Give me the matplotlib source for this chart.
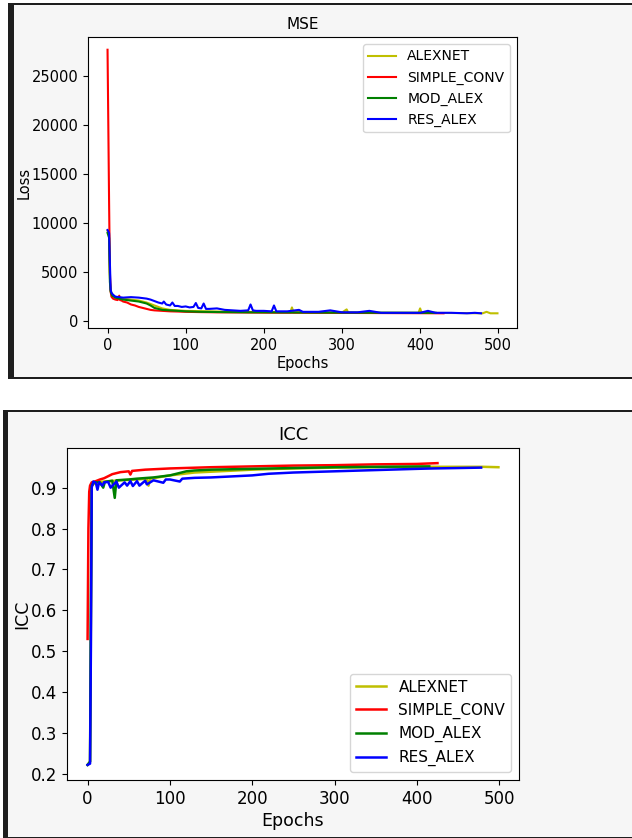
import matplotlib
matplotlib.use("Agg")
import matplotlib.pyplot as plt
from matplotlib.patches import Rectangle

W, H = 632, 838

labels = ["ALEXNET", "SIMPLE_CONV", "MOD_ALEX", "RES_ALEX"]
colors = ["y", "r", "g", "b"]

# MSE loss curves (epoch, value)
mse_alex_ep = [0, 2, 3, 4, 6, 10, 20, 30, 40, 50,
               60, 70, 80, 100, 130, 160, 200, 234, 236, 238,
               260, 300, 306, 308, 350, 398, 400, 402, 440, 480,
               485, 490, 499]
mse_alex = [9200, 8800, 4500, 3100, 2700, 2400, 2300, 2200, 2100, 1900,
            1600, 1300, 1150, 1050, 1000, 950, 920, 900, 1400, 900,
            880, 870, 1200, 870, 850, 850, 1300, 850, 830, 800,
            950, 800, 800]

mse_simple_ep = [0, 1, 2, 3, 4, 5, 7, 10, 13, 15,
                 16, 18, 20, 25, 30, 35, 40, 45, 50, 55,
                 60, 70, 80, 90, 100, 120, 140, 160, 180, 200,
                 220, 250, 280, 300, 330, 360, 400, 430]
mse_simple = [27700, 20000, 12000, 5000, 3000, 2500, 2300, 2200, 2150, 2600,
              2150, 2100, 2000, 1900, 1700, 1600, 1450, 1350, 1250, 1150,
              1100, 1050, 1000, 980, 950, 920, 900, 890, 880, 870,
              860, 860, 850, 840, 830, 820, 810, 800]

mse_mod_ep = [0, 2, 3, 4, 6, 10, 15, 20, 30, 40,
              50, 55, 60, 65, 70, 80, 90, 100, 120, 150,
              180, 200, 250, 300, 350, 400, 420]
mse_mod = [9000, 8500, 4000, 3000, 2600, 2400, 2300, 2200, 2100, 2000,
           1800, 1600, 1350, 1250, 1150, 1100, 1050, 1000, 950, 920,
           900, 900, 880, 870, 860, 850, 850]

mse_res_ep = [0, 2, 3, 4, 5, 7, 10, 15, 20, 30,
              40, 50, 55, 60, 65, 70, 72, 75, 80, 83,
              86, 90, 95, 100, 105, 110, 113, 116, 120, 123,
              126, 130, 140, 150, 160, 170, 180, 183, 186, 190,
              200, 210, 213, 216, 230, 245, 250, 270, 285, 300,
              320, 335, 350, 380, 400, 410, 420, 440, 460, 470,
              478]
mse_res = [9300, 9000, 6000, 3200, 2900, 2700, 2500, 2450, 2400, 2450,
           2400, 2300, 2200, 2050, 1900, 1800, 2000, 1700, 1600, 1900,
           1550, 1550, 1450, 1500, 1400, 1450, 1850, 1350, 1300, 1800,
           1250, 1250, 1300, 1150, 1100, 1050, 1100, 1700, 1100, 1050,
           1050, 1000, 1600, 1000, 1000, 1150, 950, 950, 1100, 900,
           900, 1050, 850, 850, 850, 1050, 850, 850, 800, 850,
           800]

# ICC curves
icc_alex_ep = [0, 3, 4, 5, 10, 20, 40, 60, 72, 74,
               76, 100, 130, 160, 200, 250, 300, 350, 400, 450,
               480, 499]
icc_alex = [0.222, 0.23, 0.55, 0.905, 0.913, 0.915, 0.918, 0.92, 0.922, 0.905,
            0.922, 0.93, 0.937, 0.94, 0.944, 0.947, 0.949, 0.95, 0.951, 0.951,
            0.951, 0.95]

icc_simple_ep = [0, 1, 2, 3, 5, 10, 15, 20, 25, 30,
                 40, 50, 52, 54, 70, 100, 150, 200, 250, 300,
                 350, 400, 425]
icc_simple = [0.53, 0.8, 0.89, 0.905, 0.913, 0.916, 0.92, 0.923, 0.928, 0.933,
              0.938, 0.94, 0.932, 0.941, 0.944, 0.947, 0.95, 0.952, 0.954, 0.955,
              0.957, 0.958, 0.96]

icc_mod_ep = [0, 3, 4, 5, 8, 15, 19, 21, 30, 33,
              35, 50, 60, 80, 100, 110, 120, 130, 150, 200,
              250, 300, 350, 415]
icc_mod = [0.222, 0.23, 0.6, 0.905, 0.913, 0.913, 0.9, 0.914, 0.917, 0.875,
           0.918, 0.92, 0.922, 0.925, 0.93, 0.935, 0.94, 0.942, 0.944, 0.946,
           0.948, 0.95, 0.951, 0.952]

icc_res_ep = [0, 3, 4, 5, 7, 10, 12, 14, 18, 20,
              25, 28, 35, 38, 45, 48, 52, 55, 60, 63,
              70, 72, 80, 92, 95, 100, 112, 115, 130, 150,
              180, 200, 220, 250, 300, 350, 400, 420, 450, 478]
icc_res = [0.222, 0.225, 0.5, 0.9, 0.915, 0.912, 0.895, 0.913, 0.905, 0.913,
           0.914, 0.9, 0.915, 0.9, 0.913, 0.905, 0.916, 0.904, 0.916, 0.905,
           0.917, 0.908, 0.918, 0.912, 0.92, 0.92, 0.915, 0.922, 0.924, 0.925,
           0.928, 0.93, 0.934, 0.937, 0.94, 0.943, 0.946, 0.947, 0.948, 0.949]

mse_series = [(mse_alex_ep, mse_alex), (mse_simple_ep, mse_simple),
              (mse_mod_ep, mse_mod), (mse_res_ep, mse_res)]
icc_series = [(icc_alex_ep, icc_alex), (icc_simple_ep, icc_simple),
              (icc_mod_ep, icc_mod), (icc_res_ep, icc_res)]


def box(x0, y0, x1, y1):
    # pixel box (top-left origin) -> figure fraction rect
    return [x0 / W, 1 - y1 / H, (x1 - x0) / W, (y1 - y0) / H]


fig = plt.figure(figsize=(W / 100, H / 100), dpi=100, facecolor="white")

# screenshot-like panel frames
for dark, light in [((8, 3, 640, 379), (14, 5, 640, 377)),
                    ((3, 410, 640, 840), (8, 412, 640, 837))]:
    r = box(*dark)
    fig.add_artist(Rectangle((r[0], r[1]), r[2], r[3], transform=fig.transFigure,
                             facecolor="#1e1e1e", edgecolor="none", zorder=0))
    r = box(*light)
    fig.add_artist(Rectangle((r[0], r[1]), r[2], r[3], transform=fig.transFigure,
                             facecolor="#f6f6f6", edgecolor="none", zorder=0))

ax1 = fig.add_axes(box(88, 37, 517, 328))
for (ep, val), c, lab in zip(mse_series, colors, labels):
    ax1.plot(ep, val, color=c, label=lab, lw=1.5)
ax1.set_xlim(-25, 524)
ax1.set_ylim(-700, 29000)
ax1.set_yticks([0, 5000, 10000, 15000, 20000, 25000])
ax1.set_xticks([0, 100, 200, 300, 400, 500])
ax1.tick_params(labelsize=10.5)
ax1.set_title("MSE", fontsize=11)
ax1.set_xlabel("Epochs", fontsize=10.5, labelpad=2)
ax1.set_ylabel("Loss", fontsize=10.5, labelpad=0)
ax1.legend(loc="upper right", fontsize=10)

ax2 = fig.add_axes(box(67, 448, 519, 780))
for (ep, val), c, lab in zip(icc_series, colors, labels):
    ax2.plot(ep, val, color=c, label=lab, lw=1.8)
ax2.set_xlim(-25, 524)
ax2.set_ylim(0.185, 0.997)
ax2.set_yticks([0.2, 0.3, 0.4, 0.5, 0.6, 0.7, 0.8, 0.9])
ax2.set_xticks([0, 100, 200, 300, 400, 500])
ax2.tick_params(labelsize=12)
ax2.set_title("ICC", fontsize=13)
ax2.set_xlabel("Epochs", fontsize=12.5, labelpad=3)
ax2.set_ylabel("ICC", fontsize=12.5, labelpad=0)
ax2.legend(loc="lower right", fontsize=11)

fig.savefig("out.png", dpi=100, facecolor=fig.get_facecolor())
